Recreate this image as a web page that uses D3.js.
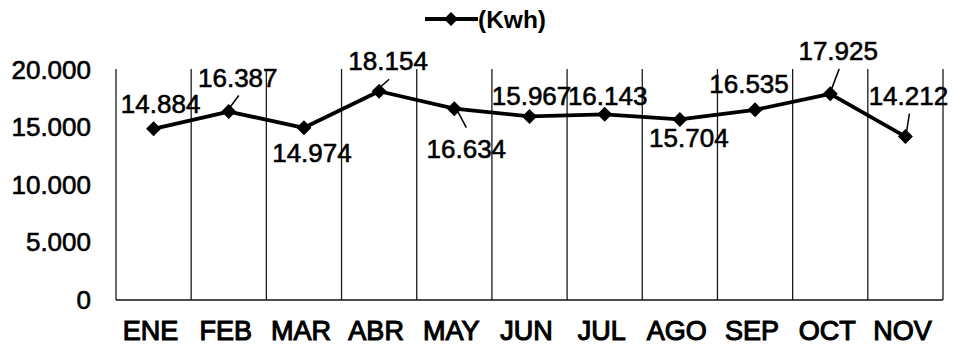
<!DOCTYPE html>
<html>
<head>
<meta charset="utf-8">
<script src="https://cdn.jsdelivr.net/npm/d3@7"></script>
<style>
  html, body { margin: 0; padding: 0; background: #fff; }
  svg { display: block; }
  text { font-family: "Liberation Sans", Arial, sans-serif; fill: #000; }
</style>
</head>
<body>
<svg id="chart" width="953" height="347"></svg>
<script>
// Monthly energy consumption (kWh)
const months = ["ENE", "FEB", "MAR", "ABR", "MAY", "JUN", "JUL", "AGO", "SEP", "OCT", "NOV"];
const kwh = [14884, 16387, 14974, 18154, 16634, 15967, 16143, 15704, 16535, 17925, 14212];
const yTicks = [0, 5000, 10000, 15000, 20000];
const seriesName = "(Kwh)";

// Label placement relative to each point: [dx, dy to baseline, leader line?]
const labelPlacement = [
  [7, -16, false], [9, -25, true], [8, 34, false], [9, -21, true],
  [12, 49, true], [2, -11, false], [3, -9, false], [9, 28, false],
  [-6, -17, false], [8, -34, true], [3, -32, true]
];

const fmt = v => d3.format(",")(v).replace(/,/g, ".");

const svg = d3.select("#chart");
const margin = { left: 116, right: 10, top: 70, bottom: 47 };
const W = 953, H = 347;

const x = d3.scaleBand().domain(months).range([margin.left, W - margin.right]).padding(0);
const y = d3.scaleLinear().domain([0, 20000]).range([H - margin.bottom, margin.top]);

// vertical separators between categories
const edges = months.map(m => x(m)).concat([x.range()[1]]);
svg.append("g").selectAll("line").data(edges).join("line")
  .attr("x1", d => d).attr("x2", d => d)
  .attr("y1", y(20000) - 1).attr("y2", y(0))
  .attr("stroke", "#1a1a1a").attr("stroke-width", 1.3);

// category axis baseline
svg.append("line")
  .attr("x1", x.range()[0]).attr("x2", x.range()[1])
  .attr("y1", y(0)).attr("y2", y(0))
  .attr("stroke", "#111").attr("stroke-width", 1.6);

// heavy regular lettering
const heavy = sel => sel.attr("stroke", "#000").attr("stroke-width", 0.6).attr("paint-order", "stroke");

// value axis labels
svg.append("g").selectAll("text").data(yTicks).join("text")
  .attr("x", 91).attr("y", d => y(d) + 8.5)
  .attr("text-anchor", "end")
  .attr("font-size", 26)
  .call(heavy)
  .text(fmt);

// category labels
svg.append("g").selectAll("text").data(months).join("text")
  .attr("x", d => x(d) + x.bandwidth() / 2 - 3)
  .attr("y", 340)
  .attr("text-anchor", "middle")
  .attr("font-size", 27)
  .attr("stroke", "#000").attr("stroke-width", 1.1)
  .text(d => d);

// series line
const pts = months.map((m, i) => ({ m, v: kwh[i], px: x(m) + x.bandwidth() / 2, py: y(kwh[i]) }));
svg.append("path")
  .datum(pts)
  .attr("d", d3.line().x(d => d.px).y(d => d.py))
  .attr("fill", "none").attr("stroke", "#000").attr("stroke-width", 3.8)
  .attr("stroke-linejoin", "round");

const diamond = r => `M0,${-r}L${r},0L0,${r}L${-r},0Z`;
svg.append("g").selectAll("path").data(pts).join("path")
  .attr("transform", d => `translate(${d.px},${d.py})`)
  .attr("d", diamond(7.5)).attr("fill", "#000");

// value labels with leader lines
const lab = svg.append("g");
pts.forEach((p, i) => {
  const [dx, dy, leader] = labelPlacement[i];
  const cx = p.px + dx, by = p.py + dy;
  lab.append("text")
    .attr("x", cx).attr("y", by)
    .attr("text-anchor", "middle")
    .attr("font-size", 26)
    .call(heavy)
    .text(fmt(p.v));
  if (leader) {
    const above = dy < 0;
    lab.append("line")
      .attr("x1", above ? cx + 1 : cx).attr("y1", above ? by + 9 : by - 30)
      .attr("x2", above ? p.px + 1 : p.px + 3).attr("y2", above ? p.py - 4 : p.py + 2)
      .attr("stroke", "#000").attr("stroke-width", 1.5);
  }
});

// legend
const lg = svg.append("g").attr("transform", "translate(425,19)");
lg.append("line").attr("x1", 0).attr("x2", 53).attr("y1", 0).attr("y2", 0)
  .attr("stroke", "#000").attr("stroke-width", 3.8);
lg.append("path").attr("transform", "translate(26,0)").attr("d", diamond(7)).attr("fill", "#000");
lg.append("text").attr("x", 53).attr("y", 9).attr("font-size", 24.5).attr("font-weight", "bold").text(seriesName);
</script>
</body>
</html>
